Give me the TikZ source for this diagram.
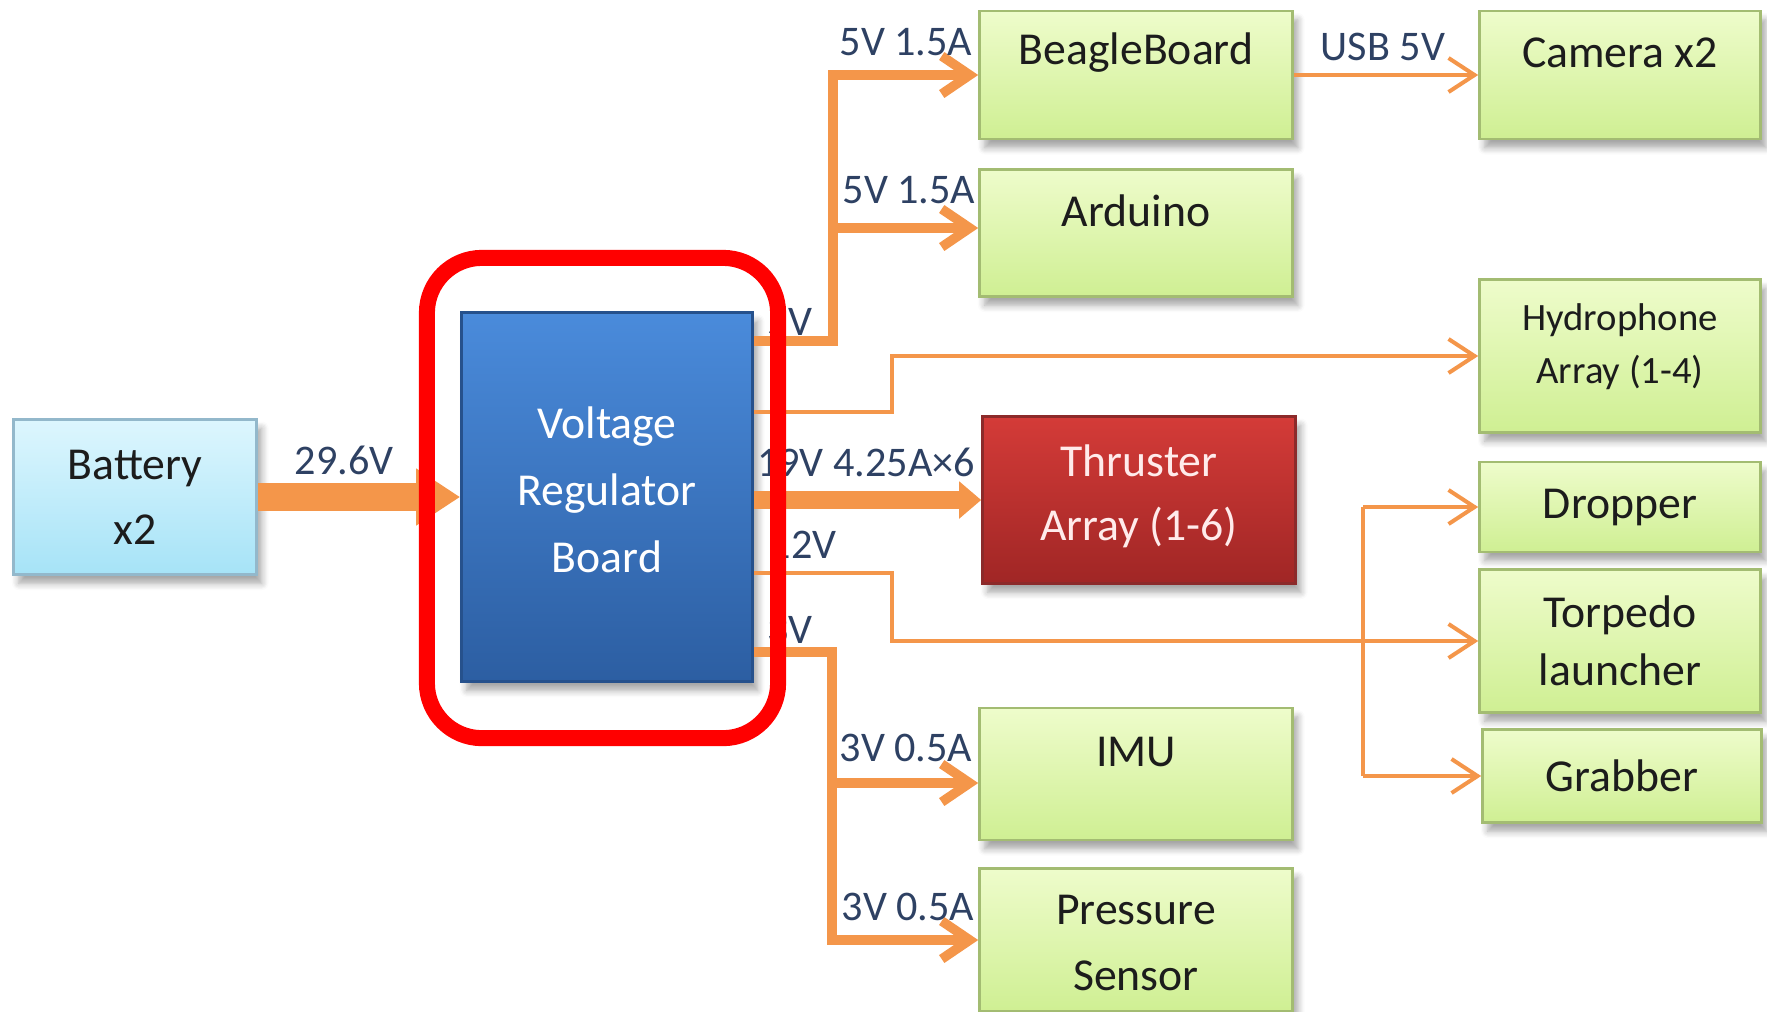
\documentclass[tikz,border=0pt]{standalone}
\usepackage{fontspec}
\setmainfont{Carlito}
\usetikzlibrary{arrows.meta,shadows.blur}
\definecolor{org}{HTML}{F4964A}
\definecolor{gtop}{HTML}{EEFCCB}
\definecolor{gbot}{HTML}{CFEF93}
\definecolor{gbd}{HTML}{A3BC72}
\definecolor{btop}{HTML}{DDF6FE}
\definecolor{bbot}{HTML}{A6E3F7}
\definecolor{bbd}{HTML}{93B8CB}
\definecolor{vtop}{HTML}{4A8BDB}
\definecolor{vbot}{HTML}{2C5EA2}
\definecolor{vbd}{HTML}{26518C}
\definecolor{rtop}{HTML}{D43B38}
\definecolor{rbot}{HTML}{A02625}
\definecolor{rbd}{HTML}{8C2A2A}
\definecolor{tdark}{HTML}{1C1C1C}
\definecolor{lblc}{HTML}{2E4163}
\begin{document}
\begin{tikzpicture}[x=0.01cm,y=-0.01cm,
  box/.style={rectangle, inner sep=0pt, line width=0.7pt,
    blur shadow={shadow xshift=1.5pt, shadow yshift=-2.5pt, shadow blur steps=6, shadow opacity=35}},
  gbox/.style={box, draw=gbd, top color=gtop, bottom color=gbot},
  txt/.style={font=\fontsize{13}{18.5}\selectfont, align=center, text=tdark, inner sep=0pt},
  lbl/.style={font=\fontsize{12}{14}\selectfont, text=lblc, inner sep=0pt},
  big/.style={draw=org, line width=0.28cm, -{Triangle[length=0.44cm,width=0.54cm]}},
  thk/.style={draw=org, line width=0.18cm, -{Triangle[length=0.22cm,width=0.36cm]}},
  med/.style={draw=org, line width=0.095cm, -{Straight Barb[length=0.28cm,width=0.38cm]}},
  thn/.style={draw=org, line width=0.04cm, -{Straight Barb[length=0.26cm,width=0.34cm]}},
  thnline/.style={draw=org, line width=0.04cm}
]
\useasboundingbox (0,0) rectangle (1767,1011);

% boxes
\node[box, draw=bbd, top color=btop, bottom color=bbot, minimum width=2.43cm, minimum height=1.55cm, txt] (bat) at (135,497) {Battery\\x2};
\node[box, draw=vbd, top color=vtop, bottom color=vbot, minimum width=2.91cm, minimum height=3.69cm] (vrb) at (607,497) {};
\node[txt, text=white, font=\fontsize{13}{19}\selectfont] (vrbt) at (607,490) {Voltage\\Regulator\\Board};
\node[gbox, minimum width=3.13cm, minimum height=1.28cm] (bb) at (1136,75) {};
\node[txt] (bbt) at (1136,53) {BeagleBoard};
\node[gbox, minimum width=3.13cm, minimum height=1.27cm] (ard) at (1136,233) {};
\node[txt] (ardt) at (1136,211) {Arduino};
\node[gbox, minimum width=2.81cm, minimum height=1.28cm] (cam) at (1620,75) {};
\node[txt] (camt) at (1620,53) {Camera x2};
\node[gbox, minimum width=2.81cm, minimum height=1.53cm] (hyd) at (1620,356) {};
\node[txt, font=\fontsize{11}{15}\selectfont] (hydt) at (1620,347) {Hydrophone\\Array (1-4)};
\node[box, draw=rbd, top color=rtop, bottom color=rbot, minimum width=3.13cm, minimum height=1.67cm] (thr) at (1139,500) {};
\node[txt, text=white!92!red, font=\fontsize{13}{18.3}\selectfont] (thrt) at (1139,496) {Thruster\\Array (1-6)};
\node[gbox, minimum width=2.81cm, minimum height=0.90cm, txt] (drop) at (1620,507) {Dropper};
\node[gbox, minimum width=2.81cm, minimum height=1.43cm, txt, font=\fontsize{13}{16.5}\selectfont] (tor) at (1620,641) {Torpedo\\launcher};
\node[gbox, minimum width=2.79cm, minimum height=0.93cm, txt] (grab) at (1622,776) {Grabber};
\node[gbox, minimum width=3.13cm, minimum height=1.32cm] (imu) at (1136,774) {};
\node[txt] (imut) at (1136,752) {IMU};
\node[gbox, minimum width=3.13cm, minimum height=1.43cm] (pres) at (1136,940) {};
\node[txt] (prest) at (1136,943) {Pressure\\Sensor};

% junction coordinates
\coordinate (j5) at (833,341);
\coordinate (jard) at (833,228);
\coordinate (jh) at (892,412);
\coordinate (j12) at (892,573);
\coordinate (jv) at (1363,638);
\coordinate (j3) at (832,652);
\coordinate (jimu) at (832,783);

% connectors
\draw[big] (bat.east) -- (vrb.west);
\draw[med] (vrb.east |- j5) -- (j5) |- (bb.west);
\draw[med] (jard) -- (ard.west |- jard);
\draw[thn] (bb.east) -- (cam.west);
\draw[thn] (vrb.east |- jh) -- (jh) |- (hyd.west);
\draw[thk] (vrb.east |- thr.west) -- (thr.west);
\draw[thn] (vrb.east |- j12) -- (j12) |- (tor.west);
\draw[thnline] (jv |- drop.west) -- (jv |- grab.west);
\draw[thn] (jv |- drop.west) -- (drop.west);
\draw[thn] (jv |- grab.west) -- (grab.west);
\draw[med] (vrb.east |- j3) -- (j3) |- (pres.west);
\draw[med] (jimu) -- (imu.west |- jimu);

% labels
\node[lbl] (l296) at (344,460) {29.6V};
\node[lbl] (l5a) at (906,42) {5V 1.5A};
\node[lbl] (l5b) at (909,190) {5V 1.5A};
\node[lbl] (lusb) at (1383,47) {USB 5V};
\node[lbl] (l5v) at (790,322) {5V};
\node[lbl] (l19) at (866,462) {19V 4.25A×6};
\node[lbl] (l12) at (803,545) {12V};
\node[lbl] (l3v) at (790,630) {3V};
\node[lbl] (l3a) at (906,748) {3V 0.5A};
\node[lbl] (l3b) at (908,907) {3V 0.5A};

% red frame
\node[draw=red, line width=0.16cm, rounded corners=0.55cm, minimum width=3.51cm, minimum height=4.80cm, inner sep=0pt] (frame) at (602.5,498) {};
\end{tikzpicture}
\end{document}
